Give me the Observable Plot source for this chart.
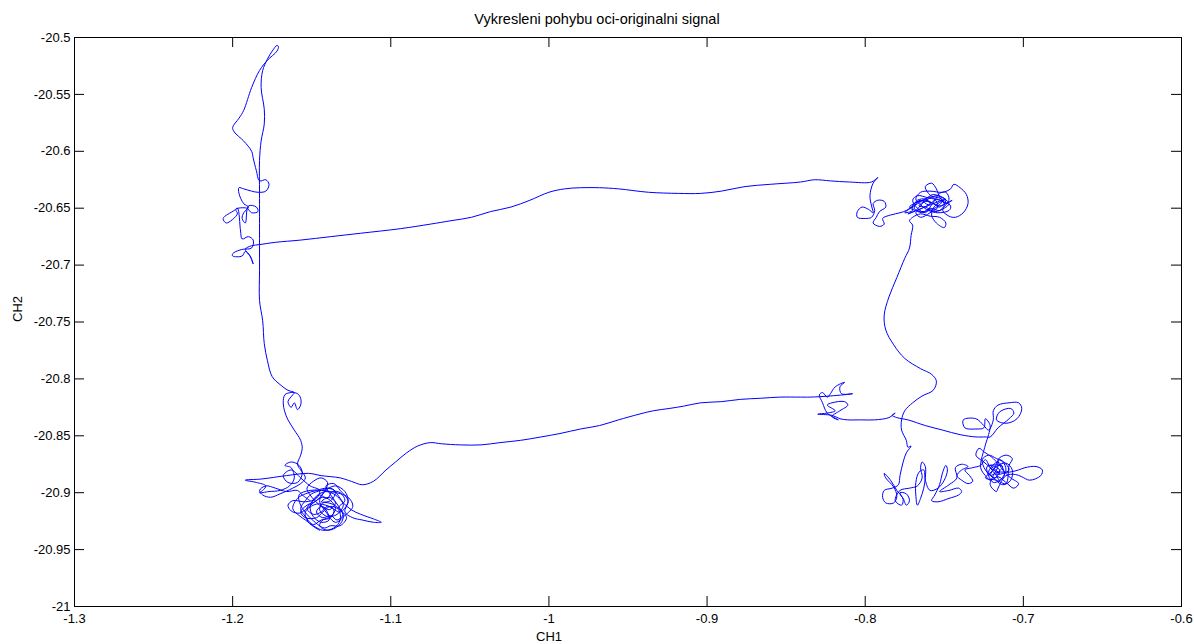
<!DOCTYPE html>
<html>
<head>
<meta charset="utf-8">
<script src="https://cdn.jsdelivr.net/npm/d3@7"></script>
<script src="https://cdn.jsdelivr.net/npm/@observablehq/plot@0.6"></script>
<style>
  html, body { margin: 0; padding: 0; background: #fff; }
  #chart svg { display: block; }
</style>
</head>
<body>
<div id="chart"></div>
<script>
// ---- Text ----
const titleText = "Vykresleni pohybu oci-originalni signal";
const xLabelText = "CH1";
const yLabelText = "CH2";

// ---- Ticks ----
const xTicks = [-1.3, -1.2, -1.1, -1.0, -0.9, -0.8, -0.7, -0.6];
const xTickLabels = ["-1.3", "-1.2", "-1.1", "-1", "-0.9", "-0.8", "-0.7", "-0.6"];
const yTicks = [-21, -20.95, -20.9, -20.85, -20.8, -20.75, -20.7, -20.65, -20.6, -20.55, -20.5];
const yTickLabels = ["-21", "-20.95", "-20.9", "-20.85", "-20.8", "-20.75", "-20.7", "-20.65", "-20.6", "-20.55", "-20.5"];

// ---- Signal (CH1, CH2), in drawing order ----
const leftClusterStart = [
  [-1.151,-20.907],[-1.156,-20.902],[-1.159,-20.898],[-1.166,-20.899],[-1.173,-20.896],[-1.179,-20.894],
  [-1.183,-20.898],[-1.181,-20.902],[-1.176,-20.904],[-1.170,-20.901],[-1.162,-20.896],[-1.157,-20.892],
  [-1.154,-20.887],[-1.157,-20.880],[-1.159,-20.875]
];
const leftSide = [
  [-1.157,-20.867],[-1.156,-20.861],[-1.157,-20.854],[-1.161,-20.845],[-1.165,-20.836],[-1.167,-20.829],
  [-1.168,-20.821],[-1.167,-20.814],[-1.163,-20.812],[-1.159,-20.813],[-1.157,-20.817],[-1.157,-20.823],
  [-1.159,-20.827],[-1.161,-20.821],[-1.163,-20.825],[-1.165,-20.820],[-1.162,-20.814],[-1.161,-20.812],
  [-1.165,-20.810],[-1.170,-20.805],[-1.175,-20.798],[-1.178,-20.784],[-1.180,-20.769],[-1.181,-20.749],
  [-1.183,-20.731],[-1.183,-20.705],[-1.183,-20.683],[-1.183,-20.657],[-1.183,-20.636],[-1.183,-20.608],
  [-1.182,-20.591],[-1.180,-20.576],[-1.180,-20.563],[-1.182,-20.544],[-1.181,-20.529],[-1.178,-20.519],
  [-1.175,-20.512],[-1.172,-20.507],[-1.171,-20.508],[-1.172,-20.512],[-1.178,-20.520],[-1.183,-20.529],
  [-1.188,-20.544],[-1.193,-20.564],[-1.196,-20.571],[-1.200,-20.579],[-1.199,-20.583],[-1.193,-20.591],
  [-1.188,-20.600],[-1.187,-20.606],[-1.185,-20.617],[-1.183,-20.626]
];
const topLeftScribble = [
  [-1.179,-20.625],[-1.177,-20.629],[-1.179,-20.635],[-1.184,-20.636],[-1.188,-20.635],[-1.193,-20.633],[-1.196,-20.632],
  [-1.196,-20.637],[-1.193,-20.646],[-1.190,-20.649],[-1.193,-20.654],[-1.194,-20.659],[-1.192,-20.663],
  [-1.190,-20.648],[-1.185,-20.649],[-1.184,-20.653],[-1.188,-20.654],[-1.191,-20.650],
  [-1.198,-20.651],[-1.197,-20.655],[-1.204,-20.663],[-1.206,-20.659],[-1.199,-20.652],[-1.197,-20.650],
  [-1.195,-20.670],[-1.194,-20.677],[-1.190,-20.675],[-1.187,-20.678],[-1.188,-20.685],[-1.193,-20.686],
  [-1.196,-20.687],[-1.200,-20.690],[-1.200,-20.692],[-1.194,-20.692],[-1.192,-20.688],[-1.189,-20.692],
  [-1.187,-20.699],[-1.189,-20.692],[-1.192,-20.686],[-1.188,-20.683]
];
const topEdge = [
  [-1.183,-20.682],[-1.173,-20.680],[-1.157,-20.678],[-1.138,-20.675],[-1.119,-20.672],[-1.094,-20.668],
  [-1.075,-20.664],[-1.062,-20.661],[-1.049,-20.658],[-1.037,-20.653],[-1.024,-20.649],[-1.012,-20.643],
  [-1.000,-20.636],[-0.990,-20.633],[-0.980,-20.632],[-0.968,-20.632],[-0.956,-20.633],[-0.937,-20.636],
  [-0.918,-20.637],[-0.904,-20.637],[-0.891,-20.635],[-0.876,-20.631],[-0.860,-20.629],[-0.841,-20.627],
  [-0.832,-20.625],[-0.822,-20.626],[-0.810,-20.627],[-0.796,-20.627],[-0.792,-20.623]
];
const topRightCluster = [
  [-0.795,-20.628],[-0.797,-20.639],[-0.796,-20.648],[-0.795,-20.654],[-0.798,-20.651],[-0.802,-20.649],
  [-0.805,-20.653],[-0.805,-20.658],[-0.800,-20.659],[-0.796,-20.658],[-0.794,-20.652],[-0.795,-20.646],
  [-0.792,-20.643],[-0.788,-20.644],[-0.787,-20.649],[-0.791,-20.653],[-0.793,-20.658],[-0.795,-20.663],
  [-0.791,-20.666],[-0.788,-20.664],[-0.789,-20.659],[-0.784,-20.656],[-0.778,-20.654],[-0.774,-20.652],
  [-0.770,-20.648],[-0.767,-20.643],[-0.762,-20.642],[-0.759,-20.646],[-0.764,-20.650],[-0.768,-20.654],
  [-0.765,-20.658],[-0.759,-20.654],[-0.754,-20.649],[-0.756,-20.642],[-0.760,-20.637],[-0.762,-20.631],
  [-0.758,-20.628],[-0.755,-20.633],[-0.753,-20.640],[-0.749,-20.646],[-0.747,-20.642],[-0.749,-20.636],
  [-0.753,-20.637],[-0.756,-20.643],[-0.759,-20.649],[-0.762,-20.654],[-0.767,-20.650],[-0.770,-20.643],
  [-0.767,-20.639],[-0.760,-20.641],[-0.753,-20.643],[-0.746,-20.648],[-0.747,-20.652],[-0.754,-20.654],
  [-0.760,-20.652],[-0.765,-20.647],[-0.768,-20.642],[-0.765,-20.636],[-0.759,-20.635],[-0.751,-20.636],
  [-0.746,-20.633],[-0.744,-20.629],[-0.740,-20.632],[-0.736,-20.638],[-0.735,-20.646],[-0.738,-20.654],
  [-0.743,-20.658],[-0.747,-20.657],[-0.751,-20.652],[-0.749,-20.647],[-0.745,-20.643],
  [-0.753,-20.648],[-0.762,-20.643],[-0.772,-20.649],[-0.765,-20.653],[-0.756,-20.650],[-0.751,-20.643],
  [-0.758,-20.640],[-0.768,-20.647],[-0.775,-20.654],[-0.770,-20.652]
];
const topRightCore = [
  [-0.770,-20.648],[-0.765,-20.643],[-0.760,-20.647],[-0.755,-20.642],[-0.750,-20.646],[-0.753,-20.652],
  [-0.759,-20.650],[-0.764,-20.654],[-0.769,-20.650],[-0.767,-20.645],[-0.762,-20.642],[-0.757,-20.638],
  [-0.751,-20.641],[-0.747,-20.646],[-0.750,-20.650],[-0.756,-20.653],[-0.762,-20.649],[-0.766,-20.648],
  [-0.762,-20.644],[-0.757,-20.646],[-0.753,-20.649],[-0.749,-20.643],[-0.754,-20.639],[-0.759,-20.641],
  [-0.764,-20.646],[-0.768,-20.652],[-0.773,-20.655]
];
const topRightExit = [
  [-0.749,-20.642],[-0.756,-20.648],[-0.758,-20.656],[-0.755,-20.663],[-0.750,-20.667],[-0.749,-20.663],
  [-0.753,-20.658],[-0.759,-20.657],[-0.765,-20.655],[-0.770,-20.658],[-0.772,-20.661],[-0.770,-20.665]
];
const rightDescent = [
  [-0.771,-20.674],[-0.772,-20.685],[-0.775,-20.694],[-0.780,-20.711],[-0.785,-20.728],[-0.788,-20.744],
  [-0.787,-20.757],[-0.782,-20.770],[-0.775,-20.782],[-0.765,-20.791],[-0.758,-20.796],[-0.755,-20.802],
  [-0.757,-20.810],[-0.764,-20.815],[-0.770,-20.821],[-0.775,-20.828],[-0.777,-20.836],[-0.777,-20.845],
  [-0.774,-20.854],[-0.773,-20.860],[-0.771,-20.859],[-0.774,-20.865],[-0.776,-20.873],[-0.778,-20.885],
  [-0.779,-20.893]
];
const bottomRightCluster = [
  [-0.783,-20.896],[-0.788,-20.898],[-0.789,-20.904],[-0.787,-20.909],[-0.782,-20.909],[-0.780,-20.903],
  [-0.782,-20.895],[-0.787,-20.887],[-0.788,-20.883],[-0.784,-20.889],[-0.780,-20.898],[-0.776,-20.905],
  [-0.774,-20.911],[-0.772,-20.907],[-0.774,-20.901],[-0.778,-20.900],[-0.776,-20.906],[-0.777,-20.911],
  [-0.781,-20.907],[-0.778,-20.898],[-0.772,-20.896],[-0.767,-20.894],[-0.764,-20.887],[-0.765,-20.878],
  [-0.764,-20.873],[-0.762,-20.877],[-0.762,-20.887],[-0.763,-20.896],[-0.765,-20.905],[-0.767,-20.911],
  [-0.768,-20.902],[-0.768,-20.891],[-0.766,-20.882],[-0.763,-20.880],[-0.762,-20.889],[-0.759,-20.898],
  [-0.754,-20.896],[-0.750,-20.889],[-0.748,-20.880],[-0.749,-20.876],[-0.751,-20.882],[-0.753,-20.893],
  [-0.756,-20.902],[-0.758,-20.907],[-0.754,-20.908],[-0.747,-20.905],[-0.741,-20.902],[-0.739,-20.899],
  [-0.741,-20.896],[-0.747,-20.898],[-0.753,-20.899],[-0.747,-20.893],[-0.742,-20.887],[-0.743,-20.878],
  [-0.739,-20.875],[-0.735,-20.877],[-0.739,-20.880],[-0.742,-20.885],[-0.739,-20.889],[-0.735,-20.892],
  [-0.732,-20.890],[-0.734,-20.885],[-0.737,-20.880],[-0.732,-20.878],[-0.727,-20.876]
];
const rightCluster = [
  [-0.724,-20.871],[-0.721,-20.878],[-0.717,-20.885],[-0.715,-20.889],[-0.711,-20.880],[-0.713,-20.873],
  [-0.717,-20.870],[-0.722,-20.867],[-0.726,-20.871],[-0.724,-20.880],[-0.719,-20.887],[-0.713,-20.893],
  [-0.708,-20.889],[-0.707,-20.880],[-0.711,-20.874],[-0.717,-20.877],[-0.721,-20.885],[-0.716,-20.882],
  [-0.709,-20.882],[-0.703,-20.880],[-0.699,-20.878],[-0.692,-20.877],[-0.688,-20.880],[-0.689,-20.885],
  [-0.696,-20.889],[-0.701,-20.886],[-0.705,-20.884],[-0.711,-20.885],[-0.716,-20.896],[-0.717,-20.899],
  [-0.721,-20.893],[-0.719,-20.885],[-0.716,-20.876],[-0.719,-20.870],[-0.725,-20.864],[-0.728,-20.861],
  [-0.730,-20.867],[-0.725,-20.873],[-0.719,-20.880],[-0.715,-20.883]
];
const rightCore = [
  [-0.721,-20.876],[-0.715,-20.880],[-0.718,-20.887],[-0.722,-20.882],[-0.716,-20.873],[-0.712,-20.885],
  [-0.719,-20.891],[-0.723,-20.877],[-0.713,-20.877],[-0.717,-20.884],[-0.709,-20.880],[-0.715,-20.871],
  [-0.719,-20.880],[-0.724,-20.887],[-0.717,-20.889],[-0.711,-20.892]
];
const rightClusterTop = [
  [-0.709,-20.876],[-0.707,-20.870],
  [-0.711,-20.867],[-0.716,-20.871],[-0.713,-20.880],[-0.708,-20.887],[-0.703,-20.892],[-0.706,-20.896],
  [-0.711,-20.891],[-0.716,-20.886],[-0.721,-20.889],[-0.724,-20.885],[-0.727,-20.878],[-0.724,-20.858],
  [-0.722,-20.849],[-0.721,-20.841],[-0.724,-20.835],[-0.725,-20.843],[-0.730,-20.844],[-0.737,-20.843],
  [-0.738,-20.836],[-0.730,-20.835],[-0.725,-20.841],[-0.722,-20.845],[-0.719,-20.836],[-0.719,-20.828],
  [-0.716,-20.823],[-0.709,-20.821],[-0.703,-20.821],[-0.701,-20.826],[-0.704,-20.835],[-0.711,-20.839],
  [-0.717,-20.836],[-0.715,-20.829],[-0.708,-20.826],[-0.706,-20.830],[-0.709,-20.835],[-0.716,-20.843],
  [-0.721,-20.851],[-0.724,-20.851]
];
const returnLine = [
  [-0.730,-20.851],[-0.740,-20.849],[-0.751,-20.845],[-0.762,-20.841],[-0.773,-20.836],[-0.780,-20.834],
  [-0.783,-20.832],[-0.781,-20.830],[-0.785,-20.834],[-0.794,-20.836],[-0.803,-20.836],[-0.811,-20.836],
  [-0.816,-20.835],[-0.821,-20.832],[-0.830,-20.831],[-0.824,-20.830],[-0.819,-20.828],[-0.824,-20.823],
  [-0.821,-20.821],[-0.813,-20.820],[-0.811,-20.823],[-0.816,-20.828],[-0.821,-20.833],[-0.817,-20.836],
  [-0.824,-20.830],[-0.827,-20.821],[-0.829,-20.814],[-0.827,-20.812],[-0.824,-20.816],[-0.822,-20.813],
  [-0.819,-20.807],[-0.813,-20.803],[-0.816,-20.807],[-0.815,-20.813],[-0.808,-20.813],[-0.822,-20.815],
  [-0.835,-20.816],[-0.841,-20.816]
];
const bottomEdge = [
  [-0.854,-20.816],[-0.866,-20.817],[-0.879,-20.818],[-0.891,-20.820],[-0.904,-20.821],[-0.915,-20.824],
  [-0.924,-20.826],[-0.934,-20.828],[-0.943,-20.831],[-0.956,-20.836],[-0.968,-20.841],[-0.980,-20.844],
  [-0.993,-20.848],[-1.005,-20.851],[-1.018,-20.854],[-1.031,-20.856],[-1.043,-20.858],[-1.056,-20.858],
  [-1.068,-20.857],[-1.075,-20.856],[-1.083,-20.859],[-1.090,-20.865],[-1.097,-20.873],[-1.103,-20.880],
  [-1.111,-20.890],[-1.118,-20.893],[-1.125,-20.890],[-1.132,-20.887],[-1.144,-20.885],[-1.152,-20.883],
  [-1.166,-20.885],[-1.182,-20.888],[-1.192,-20.889]
];
const leftClusterEnd = [
  [-1.185,-20.891],[-1.179,-20.894],[-1.181,-20.898],[-1.183,-20.900],[-1.177,-20.899],[-1.170,-20.898],
  [-1.164,-20.894],[-1.161,-20.887],[-1.163,-20.878],[-1.167,-20.876],[-1.163,-20.873],[-1.158,-20.876],
  [-1.156,-20.883],[-1.159,-20.891],[-1.165,-20.891],[-1.168,-20.885],[-1.163,-20.880],[-1.157,-20.887],
  [-1.151,-20.894],[-1.145,-20.898],[-1.147,-20.905],[-1.154,-20.908],[-1.162,-20.907],[-1.165,-20.911],
  [-1.163,-20.916],[-1.158,-20.918],[-1.154,-20.915],[-1.149,-20.909],[-1.143,-20.904],[-1.138,-20.907],
  [-1.135,-20.914],[-1.138,-20.921],[-1.143,-20.924],[-1.145,-20.929],[-1.140,-20.933],[-1.133,-20.929],
  [-1.130,-20.921],[-1.133,-20.912],[-1.138,-20.902],[-1.141,-20.894],[-1.136,-20.892],[-1.132,-20.898],
  [-1.127,-20.907],[-1.129,-20.917],[-1.124,-20.922],[-1.118,-20.924],[-1.111,-20.926],[-1.106,-20.926],
  [-1.111,-20.923],[-1.119,-20.919],[-1.125,-20.915],[-1.130,-20.909],[-1.135,-20.902],[-1.141,-20.899],
  [-1.147,-20.903],[-1.151,-20.912],[-1.149,-20.921],[-1.144,-20.926],[-1.139,-20.924],[-1.141,-20.915],
  [-1.145,-20.911],[-1.151,-20.902],[-1.153,-20.896],[-1.149,-20.890],[-1.144,-20.887],[-1.140,-20.891],
  [-1.142,-20.899],[-1.147,-20.907],[-1.153,-20.911],[-1.157,-20.917],[-1.154,-20.922],[-1.147,-20.922],
  [-1.143,-20.917],[-1.138,-20.912],[-1.133,-20.915],[-1.132,-20.924],[-1.136,-20.931],[-1.143,-20.933],
  [-1.149,-20.929],[-1.154,-20.924],[-1.158,-20.920],[-1.162,-20.914],[-1.159,-20.905],[-1.154,-20.901],
  [-1.147,-20.898],[-1.140,-20.896],[-1.135,-20.899],[-1.138,-20.907],[-1.144,-20.908]
];
const leftCore = [
  [-1.139,-20.904],[-1.135,-20.909],[-1.139,-20.915],[-1.144,-20.912],[-1.147,-20.917],[-1.143,-20.922],
  [-1.138,-20.920],[-1.134,-20.924],[-1.130,-20.919],[-1.133,-20.913],[-1.129,-20.907],[-1.132,-20.900],
  [-1.137,-20.899],[-1.140,-20.905],[-1.145,-20.902],[-1.149,-20.907],[-1.153,-20.914],[-1.149,-20.919],
  [-1.144,-20.917],[-1.140,-20.912],[-1.136,-20.915],[-1.138,-20.922],[-1.144,-20.924],[-1.149,-20.928],
  [-1.154,-20.921],[-1.157,-20.914],[-1.154,-20.907],[-1.150,-20.901],[-1.144,-20.898],[-1.138,-20.896],
  [-1.133,-20.903],[-1.130,-20.911],[-1.134,-20.919],[-1.140,-20.921],[-1.145,-20.915],[-1.143,-20.909],
  [-1.137,-20.910],[-1.132,-20.915],[-1.128,-20.922],[-1.132,-20.929],[-1.138,-20.929],[-1.142,-20.931]
];
const leftScratch = [
  [-1.151,-20.922],[-1.157,-20.911],[-1.158,-20.902],[-1.151,-20.898],[-1.138,-20.899],[-1.127,-20.904],
  [-1.124,-20.912],[-1.129,-20.920],[-1.135,-20.926],[-1.141,-20.917],[-1.145,-20.907],[-1.141,-20.898],
  [-1.135,-20.894],[-1.129,-20.899],[-1.127,-20.908],[-1.132,-20.917],[-1.139,-20.912],[-1.147,-20.910],
  [-1.154,-20.917],[-1.152,-20.926],[-1.145,-20.933]
];

const signal = [].concat(
  leftClusterStart, leftSide, topLeftScribble, topEdge, topRightCluster, topRightCore, topRightExit,
  rightDescent, bottomRightCluster, rightCluster, rightCore, rightClusterTop, returnLine, bottomEdge,
  leftClusterEnd, leftCore, leftScratch
);

const lookup = (ticks, labels) => d => {
  const i = ticks.findIndex(t => Math.abs(t - d) < 1e-9);
  return i >= 0 ? labels[i] : "";
};

const W = 1194, H = 644, mL = 74, mR = 13, mT = 37, mB = 38, tickLen = 10;
const frameW = W - mL - mR, frameH = H - mT - mB;

const chart = Plot.plot({
  width: W,
  height: H,
  marginLeft: mL,
  marginRight: mR,
  marginTop: mT,
  marginBottom: mB,
  style: {fontFamily: "'Liberation Sans', Arial, Helvetica, sans-serif", fontSize: "13px", background: "#fff", color: "#000"},
  x: {domain: [-1.3, -0.6]},
  y: {domain: [-21, -20.5]},
  marks: [
    Plot.line(signal, {x: d => d[0], y: d => d[1], stroke: "#0000ff", strokeWidth: 1, curve: "catmull-rom"}),
    // inward ticks on all four sides
    Plot.ruleX(xTicks, {x: d => d, insetTop: frameH - tickLen, stroke: "#000", strokeWidth: 1}),
    Plot.ruleX(xTicks, {x: d => d, insetBottom: frameH - tickLen, stroke: "#000", strokeWidth: 1}),
    Plot.ruleY(yTicks, {y: d => d, insetRight: frameW - tickLen, stroke: "#000", strokeWidth: 1}),
    Plot.ruleY(yTicks, {y: d => d, insetLeft: frameW - tickLen, stroke: "#000", strokeWidth: 1}),
    Plot.axisX({anchor: "bottom", ticks: xTicks, tickFormat: lookup(xTicks, xTickLabels), tickSize: 0, tickPadding: 7, label: null}),
    Plot.axisY({anchor: "left", ticks: yTicks, tickFormat: lookup(yTicks, yTickLabels), tickSize: 0, tickPadding: 4, label: null}),
    Plot.frame({stroke: "#000", strokeWidth: 1}),
    Plot.text([titleText], {text: d => d, frameAnchor: "top", dx: -31, dy: -18, lineAnchor: "middle", fontSize: 14.5}),
    Plot.text([xLabelText], {text: d => d, frameAnchor: "bottom", dx: -79, dy: 30, lineAnchor: "middle", fontSize: 13}),
    Plot.text([yLabelText], {text: d => d, frameAnchor: "left", dx: -57, rotate: -90, lineAnchor: "middle", fontSize: 13})
  ]
});
document.getElementById("chart").appendChild(chart);
</script>
</body>
</html>
